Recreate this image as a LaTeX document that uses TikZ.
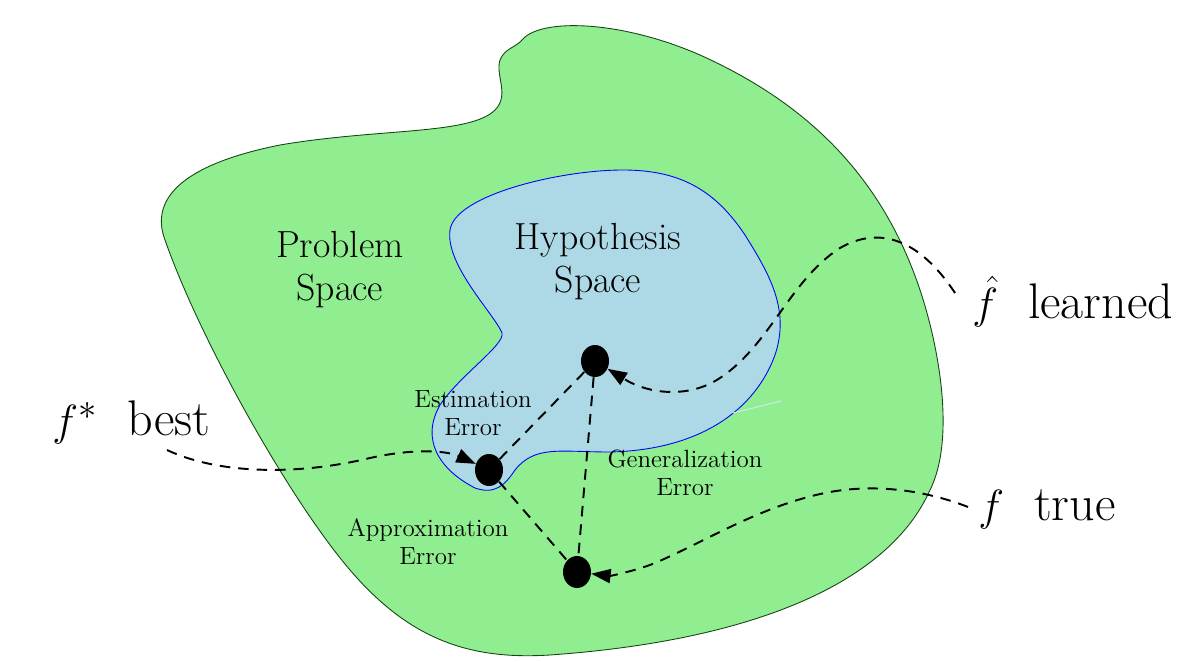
\documentclass[tikz,border=0pt]{standalone}
\usepackage{tikz}
\usetikzlibrary{positioning, shapes.geometric, arrows.meta}
\definecolor{mygreen}{RGB}{144,238,144}
\definecolor{myblue}{RGB}{173,216,230}
\definecolor{myedge}{RGB}{20,70,20}
\tikzset{
  greenblob/.style={fill=mygreen, draw=myedge, line width=0.5pt},
  blueblob/.style={fill=myblue, draw=blue, line width=0.5pt},
  dotnode/.style={ellipse, fill=black, draw=none, inner sep=0,
    minimum width=0.56cm, minimum height=0.64cm},
  errline/.style={dashed, line width=1.1pt, dash pattern=on 6pt off 4.5pt},
  fcurve/.style={errline, -{Triangle[length=11pt,width=8pt]}},
  bigtext/.style={align=center, inner sep=0,
    font=\fontsize{21.5}{24.5}\selectfont},
  smalltext/.style={align=center, inner sep=0,
    font=\fontsize{14.2}{16}\selectfont},
  functext/.style={anchor=base west, inner sep=0,
    font=\fontsize{28.5}{32}\selectfont}
}

\begin{document}
\begin{tikzpicture}[x=0.02cm, y=-0.02cm]
\useasboundingbox (0,0) rectangle (1203,662);

% problem space
\draw[greenblob] (522,40) .. controls (540,18) and (620,20) .. (700,55)
  .. controls (800,100) and (880,170) .. (920,290)
  .. controls (940,350) and (955,440) .. (930,490)
  .. controls (890,580) and (760,640) .. (550,655)
  .. controls (470,660) and (410,640) .. (350,570)
  .. controls (290,500) and (200,340) .. (165,240)
  .. controls (150,200) and (180,165) .. (280,145)
  .. controls (380,128) and (470,135) .. (495,110)
  .. controls (510,95) and (495,75) .. (500,60)
  .. controls (505,48) and (515,48) .. cycle;

% hypothesis space
\draw[blueblob] (623,170) .. controls (680,170) and (715,190) .. (745,235)
  .. controls (770,275) and (790,310) .. (775,355)
  .. controls (755,410) and (700,450) .. (610,452)
  .. controls (560,452) and (535,445) .. (515,470)
  .. controls (505,485) and (495,495) .. (475,488)
  .. controls (440,470) and (420,440) .. (440,405)
  .. controls (460,375) and (505,345) .. (502,333)
  .. controls (495,315) and (445,265) .. (450,230)
  .. controls (455,195) and (560,170) .. cycle;
\draw[myblue!60!white, line width=0.6pt] (733,413) -- (781,401);

\node [bigtext] (problem) at (340,270) {Problem\\Space};
\node [bigtext] (hypo) at (598,262) {Hypothesis\\Space};
\node [smalltext] (esterr) at (473,413) {Estimation\\Error};
\node [smalltext] (apperr) at (428,542) {Approximation\\Error};
\node [smalltext] (generr) at (685,473) {Generalization\\Error};

\node [dotnode] (learnedpt) at (595,361) {};
\node [dotnode] (bestpt) at (489,470) {};
\node [dotnode] (truept) at (577,572) {};

\node [functext] (fstar) at (52,435) {$f^*$\hspace{0.6cm}best};
\node [functext] (fhat) at (972,318) {$\hat{f}$\hspace{0.6cm}learned};
\node [functext] (ftrue) at (978,520) {$f$\hspace{0.6cm}true};

\coordinate (fstarend) at (167,450);
\coordinate (fhatend) at (955,293);
\coordinate (ftrueend) at (968,507);

\draw[errline] (bestpt) -- (learnedpt);
\draw[errline] (learnedpt) -- (truept);
\draw[errline] (bestpt) -- (truept);

\draw[fcurve] (fstarend) .. controls (220,475) and (300,475) .. (370,458)
  .. controls (420,447) and (450,452) .. (bestpt);
\draw[fcurve] (fhatend) .. controls (920,240) and (880,225) .. (840,248)
  .. controls (790,280) and (770,345) .. (720,378)
  .. controls (690,398) and (650,395) .. (learnedpt);
\draw[fcurve] (ftrueend) .. controls (930,492) and (880,483) .. (830,492)
  .. controls (760,505) and (700,545) .. (650,565)
  .. controls (630,572) and (610,576) .. (truept);
\end{tikzpicture}
\end{document}
